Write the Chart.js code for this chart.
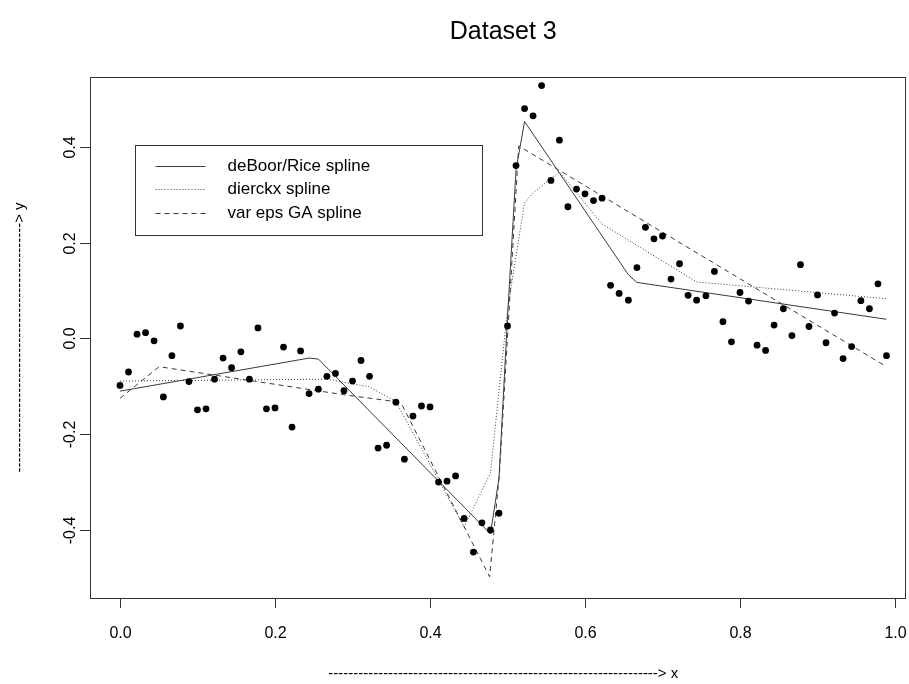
<!DOCTYPE html>
<html>
<head>
<meta charset="utf-8">
<script src="https://cdn.jsdelivr.net/npm/chart.js@4.4.1/dist/chart.umd.min.js"></script>
<style>
  html, body { margin: 0; padding: 0; background: #fff; }
  #plot { display: block; }
</style>
</head>
<body>
<canvas id="plot" width="909" height="684"></canvas>
<script>
// Observed data (x grid and noisy y values)
const obsX = [0.000, 0.011, 0.022, 0.033, 0.044, 0.056, 0.067, 0.078, 0.089, 0.100,
  0.111, 0.122, 0.133, 0.144, 0.156, 0.167, 0.178, 0.189, 0.200, 0.211,
  0.222, 0.233, 0.244, 0.256, 0.267, 0.278, 0.289, 0.300, 0.311, 0.322,
  0.333, 0.344, 0.356, 0.367, 0.378, 0.389, 0.400, 0.411, 0.422, 0.433,
  0.444, 0.456, 0.467, 0.478, 0.489, 0.500, 0.511, 0.522, 0.533, 0.544,
  0.556, 0.567, 0.578, 0.589, 0.600, 0.611, 0.622, 0.633, 0.644, 0.656,
  0.667, 0.678, 0.689, 0.700, 0.711, 0.722, 0.733, 0.744, 0.756, 0.767,
  0.778, 0.789, 0.800, 0.811, 0.822, 0.833, 0.844, 0.856, 0.867, 0.878,
  0.889, 0.900, 0.911, 0.922, 0.933, 0.944, 0.956, 0.967, 0.978, 0.989];
const obsY = [-0.098, -0.070, 0.009, 0.012, -0.005, -0.122, -0.036, 0.026, -0.090, -0.149,
  -0.147, -0.085, -0.041, -0.061, -0.028, -0.085, 0.022, -0.147, -0.145, -0.018,
  -0.185, -0.026, -0.115, -0.106, -0.079, -0.073, -0.109, -0.089, -0.046, -0.079,
  -0.229, -0.223, -0.133, -0.252, -0.162, -0.141, -0.143, -0.300, -0.298, -0.287,
  -0.376, -0.446, -0.385, -0.400, -0.365, 0.026, 0.361, 0.480, 0.465, 0.528,
  0.330, 0.414, 0.275, 0.312, 0.302, 0.288, 0.293, 0.111, 0.094, 0.080,
  0.148, 0.232, 0.208, 0.214, 0.124, 0.156, 0.090, 0.080, 0.089, 0.140,
  0.035, -0.007, 0.096, 0.078, -0.014, -0.025, 0.028, 0.062, 0.006, 0.154,
  0.025, 0.091, -0.009, 0.053, -0.042, -0.017, 0.079, 0.062, 0.114, -0.036];

// Fitted splines (polyline vertices)
const deboorX = [0, 0.244, 0.256, 0.478, 0.489, 0.500, 0.511, 0.522, 0.656, 0.667, 0.989];
const deboorY = [-0.110, -0.041, -0.043, -0.408, -0.292, 0.043, 0.352, 0.453, 0.133, 0.117, 0.040];

const dierckxX = [0, 0.267, 0.322, 0.356, 0.444, 0.478, 0.500, 0.522, 0.533, 0.567, 0.622, 0.744, 0.989];
const dierckxY = [-0.089, -0.085, -0.101, -0.132, -0.394, -0.281, 0.060, 0.283, 0.304, 0.348, 0.239, 0.118, 0.083];

const gaX = [0, 0.0505, 0.2866, 0.3555, 0.364, 0.4769, 0.4897, 0.5145, 0.989];
const gaY = [-0.125, -0.059, -0.117, -0.132, -0.139, -0.4975, -0.2805, 0.402, -0.059];

const xTicks = [0.0, 0.2, 0.4, 0.6, 0.8, 1.0];
const yTicks = [-0.4, -0.2, 0.0, 0.2, 0.4];

const legendLabels = ['deBoor/Rice spline', 'dierckx spline', 'var eps GA spline'];
const legendDashes = [[], [1, 2], [5, 4]];

const titleText = 'Dataset 3';
const xLabel = '-'.repeat(66) + '> x';
const yLabel = '-'.repeat(50) + '> y';

const FONT = '"Liberation Sans", Arial, Helvetica, sans-serif';
const INK = '#000';
const LINE = '#3a3a3a';

const toPts = (xs, ys) => xs.map((v, i) => ({ x: v, y: ys[i] }));

// Draws the R-style frame, axes, labels and legend
const rFrame = {
  id: 'rFrame',
  afterDraw(chart) {
    const { ctx, chartArea: a, scales: { x, y } } = chart;
    ctx.save();
    ctx.strokeStyle = '#333';
    ctx.lineWidth = 1;
    ctx.strokeRect(a.left + 0.5, a.top + 0.5, a.right - a.left, a.bottom - a.top);

    // x axis ticks
    ctx.fillStyle = INK;
    ctx.font = '16px ' + FONT;
    ctx.textAlign = 'center';
    ctx.textBaseline = 'alphabetic';
    xTicks.forEach(v => {
      const px = Math.round(x.getPixelForValue(v)) + 0.5;
      ctx.beginPath();
      ctx.moveTo(px, a.bottom);
      ctx.lineTo(px, a.bottom + 10);
      ctx.stroke();
      ctx.fillText(v.toFixed(1), px, a.bottom + 40);
    });

    // y axis ticks (labels parallel to axis)
    yTicks.forEach(v => {
      const py = Math.round(y.getPixelForValue(v)) + 0.5;
      ctx.beginPath();
      ctx.moveTo(a.left, py);
      ctx.lineTo(a.left - 10, py);
      ctx.stroke();
      ctx.save();
      ctx.translate(a.left - 15, py);
      ctx.rotate(-Math.PI / 2);
      ctx.fillText(v.toFixed(1), 0, 0);
      ctx.restore();
    });

    // titles
    const cx = x.getPixelForValue(0.4945);
    const cy = (a.top + a.bottom) / 2;
    ctx.font = '25px ' + FONT;
    ctx.fillText(titleText, cx, 39);
    ctx.font = '15px ' + FONT;
    ctx.fillText(xLabel, cx, 678);
    ctx.save();
    ctx.translate(24, cy);
    ctx.rotate(-Math.PI / 2);
    ctx.fillText(yLabel, 0, 0);
    ctx.restore();

    // legend
    const lx = Math.round(x.getPixelForValue(0.02)) + 0.5;
    const ly = Math.round(y.getPixelForValue(0.404)) + 0.5;
    ctx.strokeStyle = '#333';
    ctx.strokeRect(lx, ly, 347, 90);
    ctx.font = '17px ' + FONT;
    ctx.textAlign = 'left';
    ctx.textBaseline = 'middle';
    legendLabels.forEach((t, i) => {
      const ry = Math.round(ly + 20 + i * 23.5) + 0.5;
      ctx.strokeStyle = LINE;
      ctx.setLineDash(legendDashes[i]);
      ctx.beginPath();
      ctx.moveTo(lx + 20, ry);
      ctx.lineTo(lx + 70, ry);
      ctx.stroke();
      ctx.setLineDash([]);
      ctx.fillText(t, lx + 92, ry);
    });
    ctx.restore();
  }
};

new Chart(document.getElementById('plot'), {
  type: 'scatter',
  data: {
    datasets: [
      {
        label: 'data',
        data: toPts(obsX, obsY),
        pointRadius: 3.4,
        pointBackgroundColor: INK,
        pointBorderColor: INK,
        pointBorderWidth: 0,
        showLine: false
      },
      {
        label: legendLabels[0],
        data: toPts(deboorX, deboorY),
        showLine: true,
        borderColor: LINE,
        borderWidth: 1,
        pointRadius: 0,
        tension: 0
      },
      {
        label: legendLabels[1],
        data: toPts(dierckxX, dierckxY),
        showLine: true,
        borderColor: LINE,
        borderWidth: 1,
        borderDash: [1, 2],
        pointRadius: 0,
        tension: 0
      },
      {
        label: legendLabels[2],
        data: toPts(gaX, gaY),
        showLine: true,
        borderColor: LINE,
        borderWidth: 1,
        borderDash: [5, 4],
        pointRadius: 0,
        tension: 0
      }
    ]
  },
  options: {
    responsive: false,
    animation: false,
    devicePixelRatio: 1,
    layout: { padding: { left: 90, top: 77, right: 2, bottom: 86 } },
    plugins: { legend: { display: false }, tooltip: { enabled: false }, title: { display: false } },
    scales: {
      x: { type: 'linear', min: -0.0387, max: 1.0129, display: false },
      y: { type: 'linear', min: -0.542, max: 0.546, display: false }
    }
  },
  plugins: [rFrame]
});
</script>
</body>
</html>
